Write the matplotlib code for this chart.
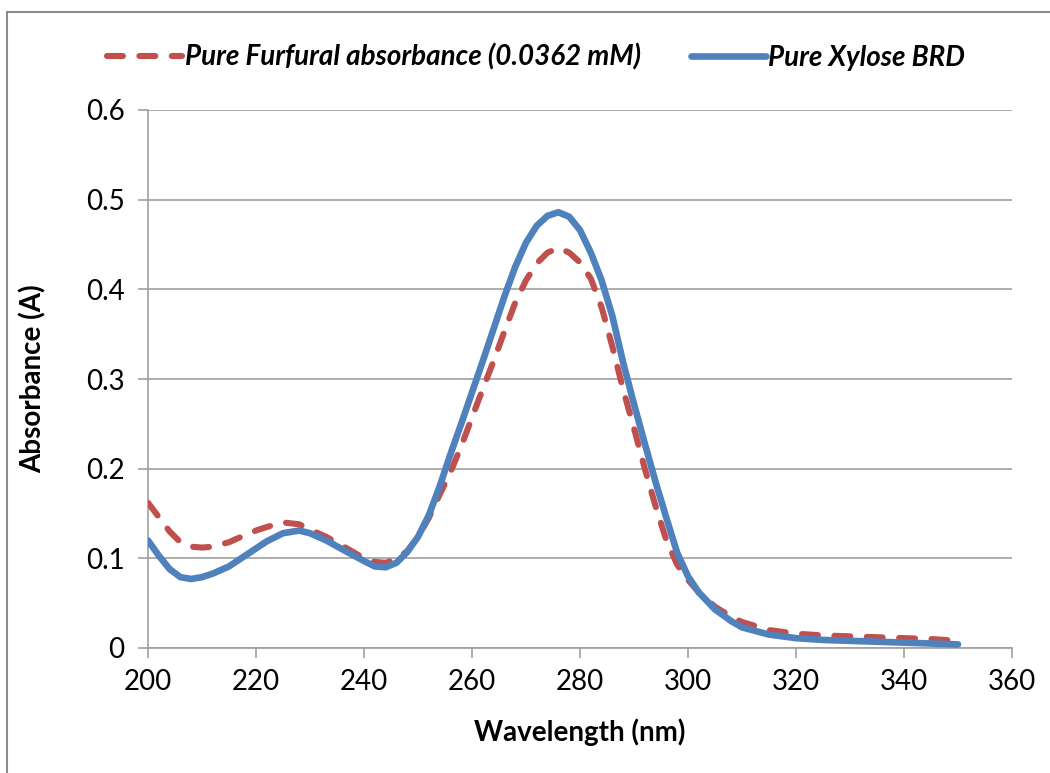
import matplotlib
matplotlib.use("Agg")
import matplotlib.pyplot as plt
from matplotlib.patches import Rectangle

# wavelength grid (nm)
wavelength = [200, 202, 204, 206, 208, 210, 212, 215, 218, 220, 222, 225, 228, 230,
              233, 236, 240, 242, 244, 246, 248, 250, 252, 254, 256, 258, 260, 262,
              264, 266, 268, 270, 272, 274, 276, 278, 280, 282, 284, 286, 288, 290,
              292, 294, 296, 298, 300, 302, 305, 308, 310, 315, 320, 325, 330, 335,
              340, 345, 350]

furfural = [0.162, 0.146, 0.130, 0.118, 0.113, 0.112, 0.113, 0.118, 0.126, 0.131,
            0.135, 0.140, 0.138, 0.132, 0.124, 0.114, 0.100, 0.096, 0.095, 0.099,
            0.108, 0.124, 0.145, 0.171, 0.196, 0.225, 0.257, 0.289, 0.320, 0.353,
            0.385, 0.410, 0.429, 0.441, 0.446, 0.441, 0.430, 0.412, 0.380, 0.336,
            0.288, 0.245, 0.200, 0.158, 0.120, 0.093, 0.076, 0.062, 0.046, 0.035,
            0.029, 0.020, 0.016, 0.014, 0.013, 0.012, 0.011, 0.010, 0.008]

xylose = [0.120, 0.103, 0.088, 0.079, 0.077, 0.079, 0.083, 0.091, 0.103, 0.111,
          0.119, 0.128, 0.131, 0.128, 0.120, 0.110, 0.097, 0.091, 0.090, 0.095,
          0.107, 0.124, 0.148, 0.180, 0.216, 0.250, 0.285, 0.320, 0.356, 0.392,
          0.425, 0.452, 0.471, 0.482, 0.486, 0.481, 0.466, 0.441, 0.410, 0.370,
          0.318, 0.272, 0.228, 0.185, 0.145, 0.106, 0.080, 0.062, 0.043, 0.030,
          0.023, 0.015, 0.011, 0.009, 0.008, 0.007, 0.006, 0.005, 0.004]

x_ticks = [200, 220, 240, 260, 280, 300, 320, 340, 360]
y_ticks = [0, 0.1, 0.2, 0.3, 0.4, 0.5, 0.6]
y_ticklabels = ["0", "0.1", "0.2", "0.3", "0.4", "0.5", "0.6"]

plt.rcParams["font.family"] = ["Lato", "DejaVu Sans"]

fig = plt.figure(figsize=(10.5, 7.73), dpi=100)
ax = fig.add_axes([148 / 1050, 1 - 648 / 773, 864 / 1050, 538 / 773])

grid_col = "#a0a0a0"
red = "#C0504D"
blue = "#4F81BD"

ax.plot(wavelength, furfural, color=red, lw=4.4, linestyle=(0, (2.6, 2.7)),
        dash_capstyle="round", solid_joinstyle="round",
        label="Pure Furfural absorbance (0.0362 mM)", zorder=3)
ax.plot(wavelength, xylose, color=blue, lw=4.8, solid_capstyle="round",
        solid_joinstyle="round", label="Pure Xylose BRD", zorder=4)

ax.set_xlim(200, 360)
ax.set_ylim(0, 0.6)
ax.set_xticks(x_ticks)
ax.set_yticks(y_ticks)
ax.set_yticklabels(y_ticklabels)
ax.tick_params(labelsize=20, length=7, width=1.2, color=grid_col, direction="out", pad=8)
ax.tick_params(axis="y", pad=10)
ax.yaxis.grid(True, color=grid_col, lw=1.2)
ax.set_axisbelow(True)
for s in ["top", "right"]:
    ax.spines[s].set_visible(False)
for s in ["left", "bottom"]:
    ax.spines[s].set_color(grid_col)
    ax.spines[s].set_linewidth(1.2)

ax.set_xlabel("Wavelength (nm)", fontsize=20, fontweight="bold", labelpad=17)
ax.set_ylabel("Absorbance (A)", fontsize=20, fontweight="bold", labelpad=28)

fig.legend(loc="center", bbox_to_anchor=(536 / 1050, 1 - 57 / 773), ncol=2,
           frameon=False, handlelength=2.7, handletextpad=0.1, columnspacing=1.8,
           prop={"size": 20, "weight": "bold", "style": "italic"})

# chart-area border
fig.patches.append(Rectangle((7 / 1050, -0.05), 1.1, 1 - 12 / 773 + 0.05,
                             transform=fig.transFigure, fill=False,
                             edgecolor="#8c8c8c", lw=1.5))

fig.savefig("out.png", dpi=100)
